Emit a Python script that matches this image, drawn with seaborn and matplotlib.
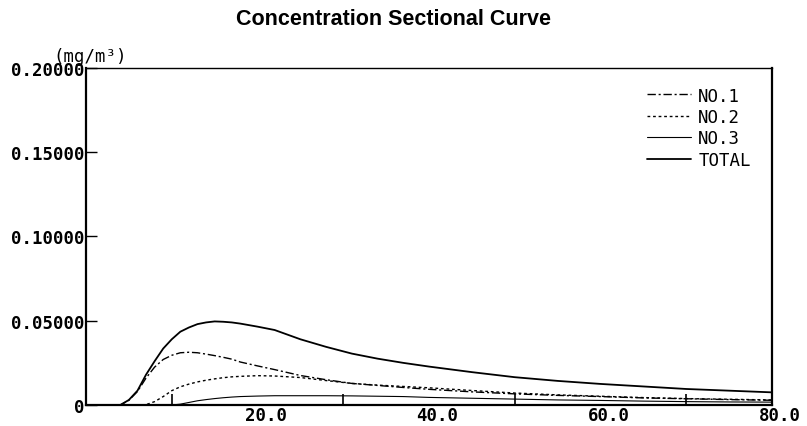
import numpy as np
import pandas as pd
import matplotlib
matplotlib.use("Agg")
import matplotlib.pyplot as plt
import matplotlib.transforms as mtransforms
import seaborn as sns

# distance (x) and concentrations
x = [0, 2, 4, 5, 6, 7, 8, 9, 10, 11, 12, 13, 14, 15, 16, 17, 18, 20, 22,
     25, 28, 31, 34, 37, 40, 45, 50, 55, 60, 65, 70, 75, 80]
no1 = [0, 0, 0, 0.0028, 0.008, 0.016, 0.0225, 0.027, 0.0295, 0.031, 0.0313,
       0.031, 0.0302, 0.0293, 0.0283, 0.0272, 0.0255, 0.0232, 0.021, 0.0175,
       0.015, 0.0128, 0.0116, 0.0104, 0.0093, 0.0078, 0.0066, 0.0057, 0.005,
       0.0042, 0.0037, 0.0032, 0.0028]
no2 = [0, 0, 0, 0, 0, 0.0002, 0.002, 0.005, 0.0085, 0.0108, 0.0124, 0.0137,
       0.0147, 0.0155, 0.0162, 0.0167, 0.017, 0.0174, 0.0172, 0.0163, 0.0145,
       0.0128, 0.0118, 0.011, 0.0102, 0.0086, 0.0071, 0.006, 0.0052, 0.0044,
       0.0038, 0.0034, 0.003]
no3 = [0, 0, 0, 0, 0, 0, 0, 0, 0, 0.0005, 0.0015, 0.0025, 0.0032, 0.0038,
       0.0043, 0.0047, 0.005, 0.0053, 0.0055, 0.0055, 0.0055, 0.0054, 0.0052,
       0.005, 0.0045, 0.004, 0.0035, 0.003, 0.0027, 0.0023, 0.002, 0.0018,
       0.0017]
total = [0, 0, 0, 0.003, 0.0085, 0.018, 0.026, 0.0335, 0.039, 0.0435, 0.046,
         0.048, 0.049, 0.0496, 0.0494, 0.049, 0.0483, 0.0465, 0.0445, 0.039,
         0.0345, 0.0305, 0.0275, 0.025, 0.0228, 0.0195, 0.0165, 0.0143,
         0.0125, 0.011, 0.0095, 0.0085, 0.0075]

series_names = ["NO.1", "NO.2", "NO.3", "TOTAL"]
yticks = [0, 0.05, 0.10, 0.15, 0.20]
ytick_labels = ["0", "0.05000", "0.10000", "0.15000", "0.20000"]
xticks = [20, 40, 60, 80]
xtick_labels = ["20.0", "40.0", "60.0", "80.0"]

df = pd.DataFrame({"x": x, "NO.1": no1, "NO.2": no2, "NO.3": no3, "TOTAL": total})
long = df.melt(id_vars="x", var_name="series", value_name="conc")

sns.set_style("ticks")
mono = ["DejaVu Sans Mono"]
plt.rcParams["font.family"] = mono
plt.rcParams["text.color"] = "black"
plt.rcParams["xtick.color"] = "black"
plt.rcParams["ytick.color"] = "black"

fig = plt.figure(figsize=(8.07, 4.27), dpi=100)
ax = fig.add_axes([0.1066, 0.0492, 0.85, 0.7892])

styles = {
    "NO.1": ((0, (6, 2, 1.5, 2)), 1.0),
    "NO.2": ((0, (2, 2)), 1.0),
    "NO.3": ("-", 0.8),
    "TOTAL": ("-", 1.3),
}
for name in series_names:
    ls, lw = styles[name]
    sns.lineplot(data=long[long["series"] == name], x="x", y="conc",
                 color="black", linestyle=ls, linewidth=lw, label=name, ax=ax)

ax.set_xlim(0, 80)
ax.set_ylim(0, 0.2)
ax.set_xlabel("")
ax.set_ylabel("")

ax.set_yticks(yticks)
ax.set_yticklabels(ytick_labels, fontsize=12.5, fontweight="bold")
ax.set_xticks(xticks)
ax.set_xticklabels(xtick_labels, fontsize=12.5, fontweight="bold")
ax.set_xticks(list(range(10, 80, 10)), minor=True)
ax.tick_params(axis="x", which="both", direction="in", length=8, width=1.2,
               pad=1, color="black")
ax.tick_params(axis="x", which="major", length=0)
ax.tick_params(axis="y", direction="in", length=8, width=1, pad=1)

# labels in the reference sit a little right of their tick
shift = mtransforms.ScaledTranslation(8 / 100, 0, fig.dpi_scale_trans)
for lab in ax.get_xticklabels():
    lab.set_transform(lab.get_transform() + shift)

for side in ["left", "bottom", "right"]:
    ax.spines[side].set_linewidth(1.6)
ax.spines["top"].set_linewidth(1.0)
for s in ax.spines.values():
    s.set_color("black")

leg = ax.legend(loc="upper left", bbox_to_anchor=(0.818, 0.945), frameon=False,
                handlelength=2.5, handletextpad=0.45, labelspacing=0.2,
                borderpad=0, borderaxespad=0,
                prop={"family": mono, "size": 12.5})

fig.text(0.487, 0.955, "Concentration Sectional Curve", ha="center",
         va="center", fontsize=15.5, fontweight="bold",
         family=["Liberation Sans", "DejaVu Sans"])
fig.text(0.112, 0.866, "(mg/m³)", ha="center", va="center", fontsize=12.5,
         family=mono)

fig.savefig("out.png", dpi=100)
